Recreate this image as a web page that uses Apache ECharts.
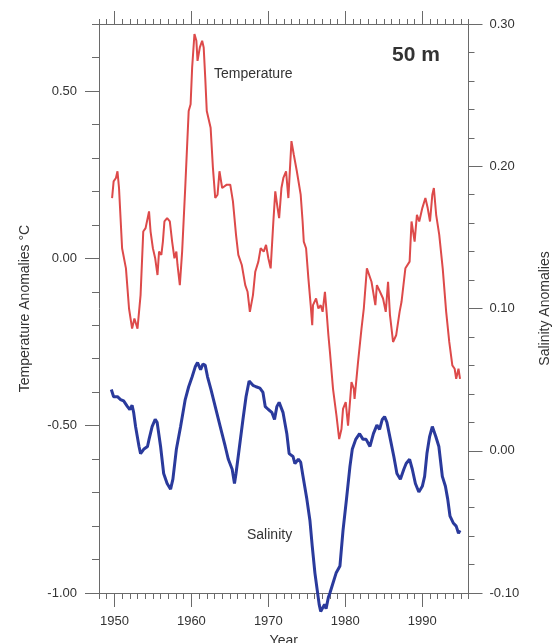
<!DOCTYPE html>
<html>
<head>
<meta charset="utf-8">
<script src="https://cdn.jsdelivr.net/npm/echarts@6/dist/echarts.min.js"></script>
<style>
html,body{margin:0;padding:0;background:#fff;overflow:hidden;}
#chart{width:553px;height:643px;}
</style>
</head>
<body>
<div id="chart"></div>
<script>
// Temperature anomaly (°C) at 50 m
var tempYears = [1949.7,1949.9,1950.2,1950.4,1950.6,1951.0,1951.5,1951.9,1952.3,1952.6,1953.0,1953.4,1953.75,1954.05,1954.5,1954.7,1955.0,1955.3,1955.6,1955.8,1956.1,1956.3,1956.5,1956.85,1957.2,1957.5,1957.8,1958.05,1958.2,1958.5,1958.8,1959.2,1959.65,1959.9,1960.1,1960.4,1960.65,1960.8,1961.1,1961.4,1961.6,1961.8,1962.0,1962.5,1962.8,1963.1,1963.4,1963.65,1964.0,1964.6,1965.05,1965.4,1965.8,1966.1,1966.55,1967.0,1967.3,1967.6,1968.0,1968.3,1968.7,1969.0,1969.4,1969.7,1970.0,1970.3,1970.65,1970.9,1971.2,1971.4,1971.7,1971.95,1972.3,1972.6,1973.0,1973.3,1973.7,1974.2,1974.45,1974.6,1974.9,1975.2,1975.5,1975.7,1975.8,1976.2,1976.5,1976.8,1977.05,1977.35,1977.6,1977.8,1978.0,1978.4,1978.85,1979.2,1979.5,1979.7,1980.05,1980.35,1980.6,1980.8,1981.1,1981.2,1981.65,1982.1,1982.4,1982.8,1983.4,1983.9,1984.1,1984.5,1984.9,1985.25,1985.55,1985.8,1986.2,1986.6,1987.05,1987.3,1987.8,1988.35,1988.6,1989.0,1989.3,1989.6,1990.0,1990.4,1990.7,1991.0,1991.3,1991.5,1991.8,1992.2,1992.65,1993.1,1993.5,1993.9,1994.2,1994.4,1994.7,1994.9];
var tempValues = [0.18,0.23,0.24,0.26,0.21,0.03,-0.03,-0.15,-0.21,-0.18,-0.21,-0.11,0.08,0.09,0.14,0.08,0.03,0.00,-0.05,0.02,0.01,0.05,0.11,0.12,0.11,0.05,0.00,0.02,-0.02,-0.08,0.02,0.21,0.44,0.46,0.57,0.67,0.65,0.59,0.63,0.65,0.63,0.54,0.44,0.39,0.27,0.18,0.19,0.26,0.21,0.22,0.22,0.17,0.07,0.01,-0.02,-0.08,-0.10,-0.16,-0.11,-0.04,-0.01,0.03,0.02,0.04,0.00,-0.03,0.11,0.20,0.15,0.12,0.21,0.24,0.26,0.18,0.35,0.31,0.26,0.19,0.11,0.05,0.03,-0.06,-0.14,-0.20,-0.14,-0.12,-0.15,-0.14,-0.16,-0.10,-0.17,-0.23,-0.28,-0.39,-0.47,-0.54,-0.51,-0.45,-0.43,-0.50,-0.43,-0.37,-0.39,-0.42,-0.31,-0.21,-0.15,-0.03,-0.07,-0.14,-0.08,-0.10,-0.12,-0.16,-0.07,-0.17,-0.25,-0.23,-0.16,-0.13,-0.03,-0.01,0.11,0.05,0.13,0.11,0.15,0.18,0.15,0.11,0.19,0.21,0.13,0.07,-0.03,-0.16,-0.25,-0.32,-0.33,-0.36,-0.33,-0.36];

// Salinity anomaly at 50 m
var salYears = [1949.6,1949.9,1950.4,1950.8,1951.2,1951.7,1952.0,1952.3,1952.5,1952.75,1953.2,1953.4,1953.8,1954.3,1954.5,1954.9,1955.3,1955.55,1956.0,1956.4,1956.85,1957.3,1957.6,1958.05,1958.6,1959.2,1959.65,1960.1,1960.5,1960.8,1961.2,1961.5,1961.8,1962.1,1962.55,1963.1,1963.75,1964.4,1964.8,1965.3,1965.6,1965.8,1966.25,1966.7,1967.1,1967.5,1968.0,1968.4,1968.9,1969.3,1969.6,1970.0,1970.45,1970.8,1971.1,1971.4,1971.9,1972.4,1972.7,1973.2,1973.45,1973.9,1974.2,1974.5,1975.0,1975.4,1975.7,1976.05,1976.35,1976.6,1976.8,1977.0,1977.3,1977.5,1977.8,1978.0,1978.4,1978.8,1979.3,1979.7,1980.15,1980.6,1980.9,1981.35,1981.85,1982.3,1982.7,1983.2,1983.65,1984.1,1984.45,1984.8,1985.1,1985.4,1985.85,1986.3,1986.7,1987.15,1987.6,1987.9,1988.35,1988.7,1989.1,1989.55,1990.0,1990.3,1990.6,1990.95,1991.3,1991.75,1992.15,1992.6,1993.0,1993.3,1993.6,1994.05,1994.4,1994.7,1994.9];
var salValues = [0.043,0.038,0.038,0.036,0.035,0.031,0.029,0.032,0.027,0.017,0.003,-0.002,0.001,0.003,0.008,0.017,0.022,0.020,0.003,-0.016,-0.023,-0.027,-0.020,0.001,0.017,0.036,0.045,0.052,0.059,0.062,0.057,0.061,0.060,0.052,0.043,0.031,0.017,0.003,-0.006,-0.013,-0.023,-0.016,0.003,0.022,0.038,0.049,0.046,0.045,0.044,0.041,0.031,0.029,0.027,0.022,0.031,0.034,0.027,0.012,-0.002,-0.004,-0.009,-0.006,-0.008,-0.018,-0.034,-0.049,-0.067,-0.086,-0.098,-0.108,-0.113,-0.114,-0.108,-0.111,-0.103,-0.100,-0.093,-0.086,-0.081,-0.056,-0.034,-0.011,0.001,0.008,0.012,0.008,0.008,0.003,0.012,0.018,0.015,0.022,0.024,0.020,0.008,-0.004,-0.016,-0.020,-0.013,-0.009,-0.006,-0.013,-0.023,-0.029,-0.025,-0.018,-0.002,0.010,0.017,0.010,0.003,-0.018,-0.025,-0.034,-0.046,-0.051,-0.053,-0.058,-0.056];

// Axis tick labels
var yearTicks = [1950,1960,1970,1980,1990];
var yearMin = 1948, yearMax = 1996;
var tempMin = -1.0, tempMax = 0.7;
var salMin = -0.1, salMax = 0.3;

function pairs(xs, ys){ return xs.map(function(x,i){ return [x, ys[i]]; }); }

var font = 'Liberation Sans, Arial, sans-serif';
var axisColor = '#6a6a6a';
var textColor = '#333';

var chart = echarts.init(document.getElementById('chart'), null, {renderer:'canvas'});
chart.setOption({
  animation:false,
  backgroundColor:'#ffffff',
  grid:{left:99, right:84.5, top:24, bottom:50, containLabel:false, outerBoundsMode:'none'},
  xAxis:[
    {type:'value', position:'bottom', min:yearMin, max:yearMax, interval:1,
     name:'Year', nameLocation:'middle', nameGap:41,
     nameTextStyle:{fontFamily:font, fontSize:14, color:textColor},
     axisLine:{show:true, onZero:false, lineStyle:{color:axisColor, width:1}},
     axisTick:{show:true, length:14, customValues:yearTicks, lineStyle:{color:axisColor}},
     axisLabel:{show:true, margin:22, fontFamily:font, fontSize:13, color:textColor, customValues:yearTicks,
       formatter:function(v){ return String(Math.round(v)); }},
     splitLine:{show:false}},
    {type:'value', position:'bottom', min:yearMin, max:yearMax, interval:1,
     axisLine:{show:false, onZero:false}, axisTick:{show:true, length:6, lineStyle:{color:axisColor}},
     axisLabel:{show:false}, splitLine:{show:false}},
    {type:'value', position:'top', min:yearMin, max:yearMax, interval:1,
     axisLine:{show:true, onZero:false, lineStyle:{color:axisColor}},
     axisTick:{show:true, length:13, customValues:yearTicks, lineStyle:{color:axisColor}},
     axisLabel:{show:false}, splitLine:{show:false}},
    {type:'value', position:'top', min:yearMin, max:yearMax, interval:1,
     axisLine:{show:false, onZero:false}, axisTick:{show:true, length:5, lineStyle:{color:axisColor}},
     axisLabel:{show:false}, splitLine:{show:false}}
  ],
  yAxis:[
    {type:'value', position:'left', min:tempMin, max:tempMax, interval:0.5,
     name:'Temperature Anomalies °C', nameLocation:'middle', nameGap:67,
     nameTextStyle:{fontFamily:font, fontSize:14, color:textColor},
     axisLine:{show:true, onZero:false, lineStyle:{color:axisColor}},
     axisTick:{show:true, length:14, lineStyle:{color:axisColor}},
     axisLabel:{show:true, margin:22, fontFamily:font, fontSize:13, color:textColor, showMaxLabel:false,
       formatter:function(v){ return v.toFixed(2); }},
     splitLine:{show:false}},
    {type:'value', position:'left', min:tempMin, max:tempMax, interval:0.1,
     axisLine:{show:false, onZero:false}, axisTick:{show:true, length:7, lineStyle:{color:axisColor}},
     axisLabel:{show:false}, splitLine:{show:false}},
    {type:'value', position:'right', min:salMin, max:salMax, interval:0.1,
     name:'Salinity Anomalies', nameLocation:'middle', nameGap:70,
     nameTextStyle:{fontFamily:font, fontSize:14, color:textColor},
     axisLine:{show:true, onZero:false, lineStyle:{color:axisColor}},
     axisTick:{show:true, length:14, lineStyle:{color:axisColor}},
     minorTick:{show:true, splitNumber:5, length:6, lineStyle:{color:axisColor}},
     axisLabel:{show:true, margin:21, fontFamily:font, fontSize:13, color:textColor,
       formatter:function(v){ return v.toFixed(2); }},
     splitLine:{show:false}}
  ],
  graphic:[
    {type:'text', left:214, top:67, style:{text:'Temperature', font:'14px '+font, fill:textColor}},
    {type:'text', left:247, top:528, style:{text:'Salinity', font:'14px '+font, fill:textColor}},
    {type:'text', left:392, top:45, style:{text:'50 m', font:'bold 21px '+font, fill:'#333'}}
  ],
  series:[
    {type:'line', name:'Temperature', xAxisIndex:0, yAxisIndex:0, data:pairs(tempYears, tempValues),
     showSymbol:false, symbol:'none', lineStyle:{color:'#dd4a4a', width:2}, clip:false, z:3},
    {type:'line', name:'Salinity', xAxisIndex:0, yAxisIndex:2, data:pairs(salYears, salValues),
     showSymbol:false, symbol:'none', lineStyle:{color:'#2a3a9c', width:3}, clip:false, z:3}
  ]
});
</script>
</body>
</html>
